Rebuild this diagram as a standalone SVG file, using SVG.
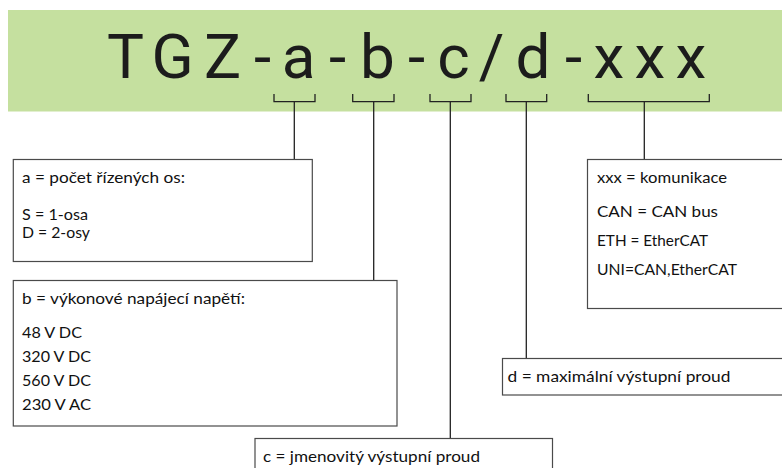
<svg xmlns="http://www.w3.org/2000/svg" width="782" height="468" viewBox="0 0 782 468">
<style>
.title{font-family:Roboto,"Liberation Sans",sans-serif;font-size:62px;fill:#1c1c1c;text-anchor:middle}
.box{fill:#fff;stroke:#4a4a4a;stroke-width:1.2}
.t{font-family:Lato,"Liberation Sans",sans-serif;font-size:16px;fill:#111}
.con{fill:none;stroke:#222;stroke-width:1.3}
</style>
<rect x="8" y="10" width="774" height="101.5" fill="#c5e09f"/>
<text class="title" x="125.5 172.5 222.5 262.5 298.5 337.5 377.5 416.5 453.5 491.5 533 573.5 609 650 691" y="78.3">TGZ-a-b-c/d-xxx</text>
<g id="connectors">
<path class="con" d="M274 94V101.7H315V94M294.3 101.7V159.5"/>
<path class="con" d="M352.7 94V101.7H394V94M373.7 101.7V280.5"/>
<path class="con" d="M430 94V101.7H471V94M450.3 101.7V438.5"/>
<path class="con" d="M506 94V101.7H546.7V94M526.3 101.7V358.5"/>
<path class="con" d="M588.3 94V101.7H709.3V94M644.3 101.7V159.5"/>
</g>
<g id="box-a">
<rect class="box" x="13.3" y="159.5" width="299" height="102"/>
<text class="t" x="22" y="183" textLength="163" lengthAdjust="spacingAndGlyphs">a = počet řízených os:</text>
<text class="t" x="22" y="220" textLength="66" lengthAdjust="spacingAndGlyphs">S = 1-osa</text>
<text class="t" x="22" y="237.5" textLength="68" lengthAdjust="spacingAndGlyphs">D = 2-osy</text>
</g>
<g id="box-b">
<rect class="box" x="13.3" y="280.5" width="383.7" height="145.5"/>
<text class="t" x="22" y="303.5" textLength="223" lengthAdjust="spacingAndGlyphs">b = výkonové napájecí napětí:</text>
<text class="t" x="22" y="338" textLength="60" lengthAdjust="spacingAndGlyphs">48 V DC</text>
<text class="t" x="22" y="362" textLength="69" lengthAdjust="spacingAndGlyphs">320 V DC</text>
<text class="t" x="22" y="386" textLength="69" lengthAdjust="spacingAndGlyphs">560 V DC</text>
<text class="t" x="22" y="410" textLength="69" lengthAdjust="spacingAndGlyphs">230 V AC</text>
</g>
<g id="box-c">
<rect class="box" x="255" y="438.5" width="297.5" height="40"/>
<text class="t" x="263" y="462" textLength="217" lengthAdjust="spacingAndGlyphs">c = jmenovitý výstupní proud</text>
</g>
<g id="box-d">
<rect class="box" x="502.5" y="358.5" width="290" height="36.5"/>
<text class="t" x="507.5" y="381.5" textLength="223" lengthAdjust="spacingAndGlyphs">d = maximální výstupní proud</text>
</g>
<g id="box-xxx">
<rect class="box" x="587.5" y="159.5" width="205" height="149"/>
<text class="t" x="597" y="182.5" textLength="130" lengthAdjust="spacingAndGlyphs">xxx = komunikace</text>
<text class="t" x="597" y="216.5" textLength="121" lengthAdjust="spacingAndGlyphs">CAN = CAN bus</text>
<text class="t" x="597" y="245.5" textLength="111" lengthAdjust="spacingAndGlyphs">ETH = EtherCAT</text>
<text class="t" x="597" y="275" textLength="140" lengthAdjust="spacingAndGlyphs">UNI=CAN,EtherCAT</text>
</g>
</svg>
